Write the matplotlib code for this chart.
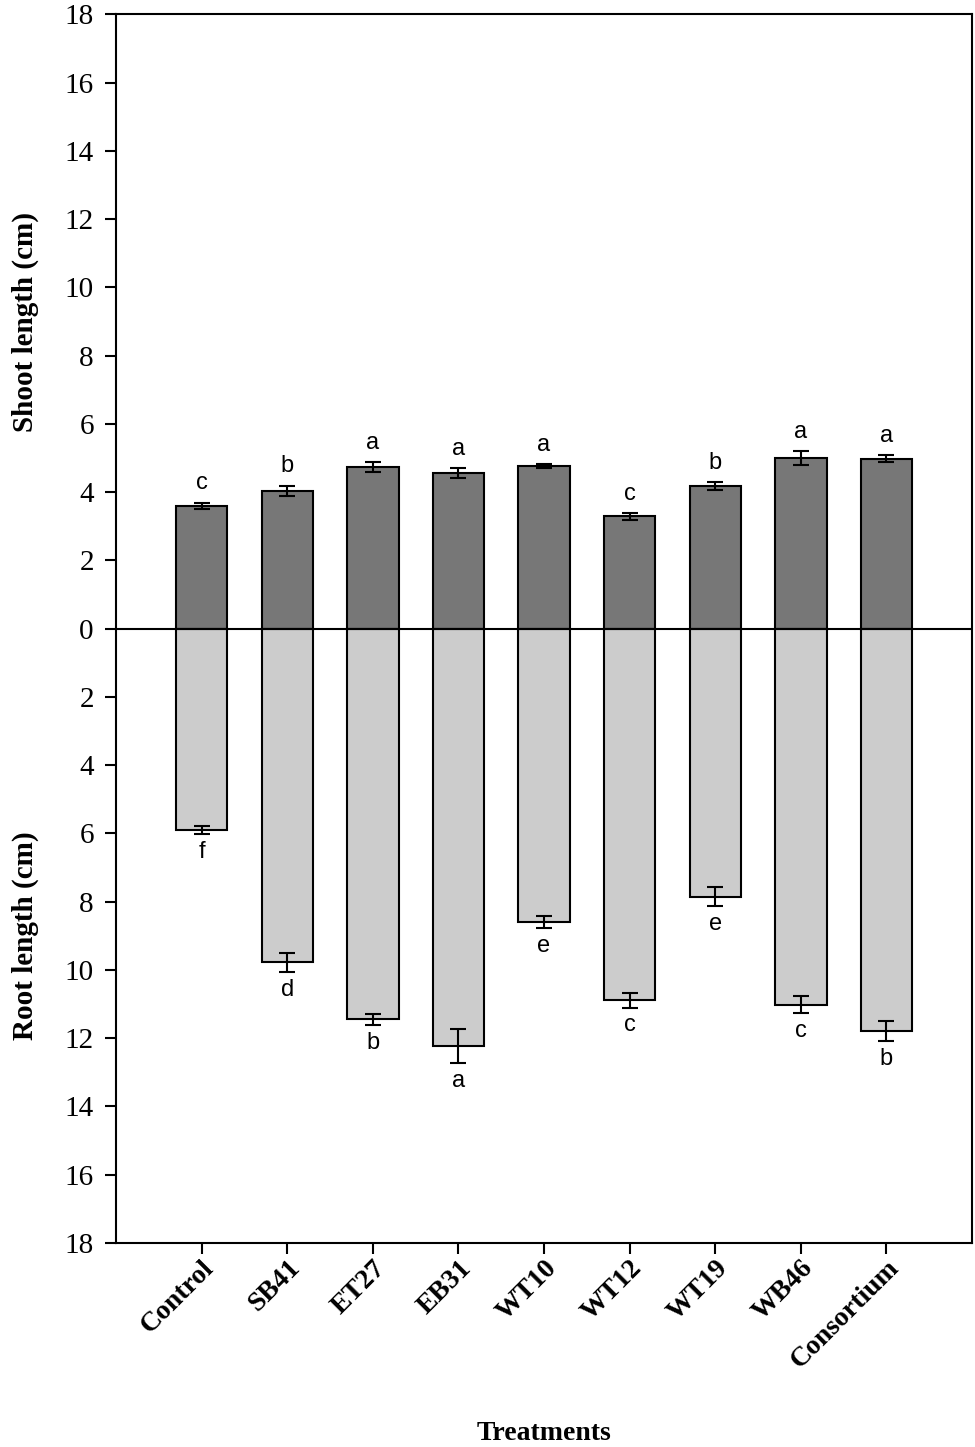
import matplotlib
matplotlib.use("Agg")
import matplotlib.pyplot as plt
from matplotlib.ticker import FixedLocator, FuncFormatter
import numpy as np

treatments = ["Control", "SB41", "ET27", "EB31", "WT10", "WT12", "WT19", "WB46", "Consortium"]
shoot_mean = [3.60, 4.04, 4.74, 4.56, 4.77, 3.29, 4.18, 5.01, 4.98]
shoot_err = [0.09, 0.15, 0.14, 0.14, 0.05, 0.10, 0.12, 0.20, 0.10]
shoot_letters = ["c", "b", "a", "a", "a", "c", "b", "a", "a"]
root_mean = [5.90, 9.78, 11.44, 12.22, 8.60, 10.89, 7.85, 11.02, 11.79]
root_err = [0.12, 0.28, 0.16, 0.50, 0.17, 0.21, 0.28, 0.25, 0.30]
root_letters = ["f", "d", "b", "a", "e", "c", "e", "c", "b"]
yticks = list(range(-18, 19, 2))

fig = plt.figure(figsize=(9.75, 14.47), dpi=100)
ax_left, ax_bottom, ax_w, ax_h = 0.119, 0.141, 0.878, 0.849
ax = fig.add_axes([ax_left, ax_bottom, ax_w, ax_h])

x = np.arange(len(treatments))
serif = "Liberation Serif"
sans = "Liberation Sans"

ax.bar(x, shoot_mean, width=0.6, color="#777777", edgecolor="black", linewidth=1.5, zorder=2)
ax.bar(x, [-v for v in root_mean], width=0.6, color="#cccccc", edgecolor="black", linewidth=1.5, zorder=2)
ax.errorbar(x, shoot_mean, yerr=shoot_err, fmt="none", ecolor="black", elinewidth=1.5, capsize=6, capthick=1.5, zorder=3)
ax.errorbar(x, [-v for v in root_mean], yerr=root_err, fmt="none", ecolor="black", elinewidth=1.5, capsize=6, capthick=1.5, zorder=3)
ax.axhline(0, color="black", linewidth=1.5, zorder=4)

for i in range(len(treatments)):
    ax.annotate(shoot_letters[i], (x[i], shoot_mean[i] + shoot_err[i]), xytext=(0, 6),
                textcoords="offset points", ha="center", va="bottom", fontsize=17, family=sans)
    ax.annotate(root_letters[i], (x[i], -(root_mean[i] + root_err[i])), xytext=(0, -5),
                textcoords="offset points", ha="center", va="top", fontsize=17, family=sans)

ax.set_xlim(-1, 9)
ax.set_ylim(-18, 18)
ax.yaxis.set_major_locator(FixedLocator(yticks))
ax.yaxis.set_major_formatter(FuncFormatter(lambda v, p: f"{abs(int(round(v)))}"))
ax.set_xticks(x)
ax.set_xticklabels(treatments, rotation=45, ha="right", va="top", rotation_mode="anchor",
                   fontsize=20, family=serif, fontweight="bold")
for lab in ax.get_yticklabels():
    lab.set_family(serif)
    lab.set_fontsize(21)
ax.tick_params(axis="both", direction="out", length=8, width=1.5, colors="black")
ax.tick_params(axis="x", pad=1)
ax.tick_params(axis="y", pad=8)
for s in ax.spines.values():
    s.set_linewidth(1.5)

fig.text(0.026, ax_bottom + ax_h * 0.75, "Shoot length (cm)", rotation=90, ha="center", va="center",
         fontsize=21, family=serif, fontweight="bold")
fig.text(0.026, ax_bottom + ax_h * 0.25, "Root length (cm)", rotation=90, ha="center", va="center",
         fontsize=21, family=serif, fontweight="bold")
fig.text(0.5575, 1 - 1433 / 1447, "Treatments", ha="center", va="center",
         fontsize=20, family=serif, fontweight="bold")

fig.savefig("out.png", dpi=100)
